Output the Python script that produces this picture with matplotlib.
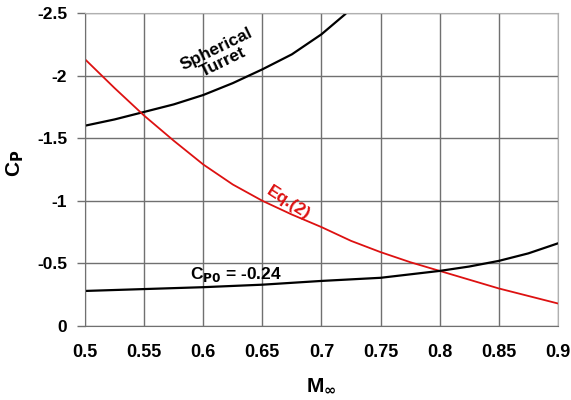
import matplotlib
matplotlib.use('Agg')
import matplotlib.pyplot as plt

plt.rcParams['font.family'] = ['Liberation Sans', 'DejaVu Sans']
plt.rcParams['font.weight'] = 'bold'
plt.rcParams['axes.labelweight'] = 'bold'
plt.rcParams['mathtext.default'] = 'bf'

mach_turret = [0.5, 0.525, 0.55, 0.575, 0.6, 0.625, 0.65, 0.675, 0.7, 0.72]
cp_turret = [-1.60, -1.65, -1.71, -1.77, -1.845, -1.94, -2.05, -2.17, -2.33, -2.49]

mach_eq = [0.5, 0.525, 0.55, 0.575, 0.6, 0.625, 0.65, 0.675, 0.7, 0.725, 0.75,
           0.775, 0.8, 0.825, 0.85, 0.875, 0.9]
cp_eq = [-2.13, -1.90, -1.68, -1.48, -1.29, -1.13, -1.0, -0.89, -0.79, -0.68, -0.59,
         -0.51, -0.44, -0.37, -0.30, -0.24, -0.18]

mach_cp0 = [0.5, 0.55, 0.6, 0.65, 0.7, 0.75, 0.8, 0.825, 0.85, 0.875, 0.9]
cp_cp0 = [-0.28, -0.295, -0.31, -0.33, -0.36, -0.385, -0.44, -0.475, -0.52, -0.58, -0.66]

xticks = [0.5, 0.55, 0.6, 0.65, 0.7, 0.75, 0.8, 0.85, 0.9]
xlabels = ['0.5', '0.55', '0.6', '0.65', '0.7', '0.75', '0.8', '0.85', '0.9']
yticks = [0, -0.5, -1, -1.5, -2, -2.5]
ylabels = ['0', '-0.5', '-1', '-1.5', '-2', '-2.5']

fig = plt.figure(figsize=(5.71, 4.0), dpi=100, facecolor='w')
ax = fig.add_axes([0.149, 0.185, 0.828, 0.7825])

ax.plot(mach_turret, cp_turret, color='black', lw=1.6)
ax.plot(mach_eq, cp_eq, color='#dd1111', lw=1.3)
ax.plot(mach_cp0, cp_cp0, color='black', lw=1.6)

ax.set_xlim(0.5, 0.9)
ax.set_ylim(0, -2.5)
ax.set_xticks(xticks)
ax.set_xticklabels(xlabels)
ax.set_yticks(yticks)
ax.set_yticklabels(ylabels)
ax.grid(True, color='#707070', lw=1.0)
ax.set_axisbelow(True)
ax.tick_params(axis='x', length=0, pad=13, labelsize=13)
ax.tick_params(axis='y', length=6, width=1.0, color='#707070', pad=7, labelsize=12.5)
for s in ['left', 'bottom']:
    ax.spines[s].set_color('#707070')
for s in ['right', 'top']:
    ax.spines[s].set_color('#b0b0b0')

ax.set_xlabel(r'M$_{\infty}$', fontsize=15)
ax.xaxis.set_label_coords(0.5, -0.16)
ax.set_ylabel(r'C$_{\mathrm{P}}$', fontsize=15)
ax.yaxis.set_label_coords(-0.125, 0.52)

ax.text(0.614, -2.16, 'Spherical\nTurret', rotation=26, ha='center', va='center',
        fontsize=12.5, linespacing=1.0)
ax.text(0.672, -0.98, 'Eq.(2)', rotation=-33, ha='center', va='center',
        fontsize=12.5, color='#dd1111')
ax.text(0.628, -0.41, r'C$_{\mathrm{P0}}$ = -0.24', ha='center', va='center', fontsize=12.5)

fig.savefig('out.png', dpi=100)
